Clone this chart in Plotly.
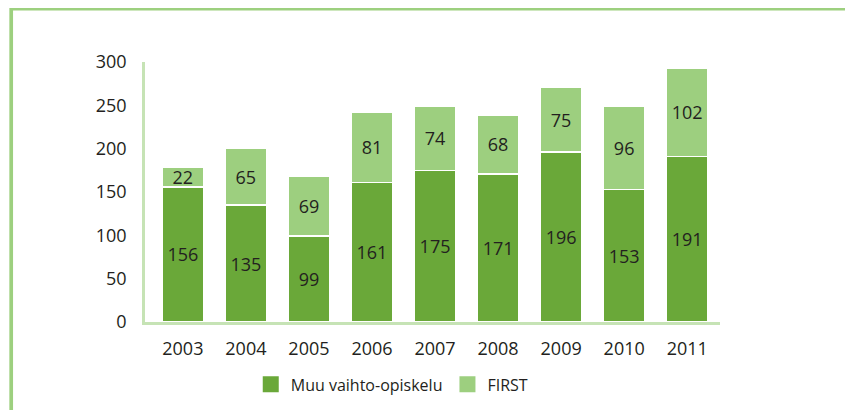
import plotly.graph_objects as go

years = ["2003", "2004", "2005", "2006", "2007", "2008", "2009", "2010", "2011"]
muu_vaihto = [156, 135, 99, 161, 175, 171, 196, 153, 191]
first = [22, 65, 69, 81, 74, 68, 75, 96, 102]
y_ticks = [0, 50, 100, 150, 200, 250, 300]

dark_green = "#6AA839"
light_green = "#9DCF7F"
axis_green = "#C6E3B5"
frame_green = "#9DD07F"
text_color = "#231F20"
font_family = "Open Sans, Noto Sans, DejaVu Sans, sans-serif"

# page body has an 8px default margin; compensate
OFF = 8
W, H = 853 - OFF, 410 - OFF
L, T = 145 - OFF, 62 - OFF
PW, PH = 575, 260

fig = go.Figure()
for name, vals, col in [("Muu vaihto-opiskelu", muu_vaihto, dark_green),
                        ("FIRST", first, light_green)]:
    fig.add_trace(go.Bar(
        x=years, y=vals, name=name, showlegend=False,
        marker=dict(color=col, line=dict(color="white", width=1.5)),
        text=vals, textposition="inside", insidetextanchor="middle", textangle=0,
        textfont=dict(size=18, color=text_color, family=font_family),
        hoverinfo="x+y+name",
    ))
    # legend entry with larger square swatch
    fig.add_trace(go.Scatter(
        x=[None], y=[None], mode="markers", name=name, showlegend=True,
        marker=dict(symbol="square", size=16, color=col),
        hoverinfo="skip",
    ))

fig.update_layout(
    barmode="stack",
    bargap=0.333,
    width=W, height=H,
    margin=dict(l=L, r=W - L - PW, t=T, b=H - T - PH, autoexpand=False),
    paper_bgcolor="white", plot_bgcolor="white",
    font=dict(family=font_family, color=text_color, size=18),
    uniformtext=dict(minsize=18, mode="show"),
    showlegend=True,
    legend=dict(
        orientation="h", x=0.43, xanchor="center", y=-0.24, yanchor="middle",
        font=dict(size=16, color=text_color), traceorder="normal",
        itemwidth=30,
    ),
    xaxis=dict(
        type="category", range=[-0.6, 8.52],
        showline=True, linecolor=axis_green, linewidth=2.5,
        showgrid=False, ticks="", ticklabelstandoff=9,
        tickfont=dict(size=18, color=text_color),
    ),
    yaxis=dict(
        range=[0, 300], tickvals=y_ticks,
        showline=True, linecolor=axis_green, linewidth=2.5,
        showgrid=False, zeroline=False, ticks="", ticklabelstandoff=12,
        tickfont=dict(size=18, color=text_color),
    ),
    shapes=[dict(
        type="rect", xref="paper", yref="paper",
        x0=(11.2 - 145) / PW, x1=(850 - 145) / PW,
        y0=-0.6, y1=(322 - 8.7) / PH,
        line=dict(color=frame_green, width=3.7), fillcolor="rgba(0,0,0,0)",
        layer="below",
    )],
)

fig.write_html("out.html")
